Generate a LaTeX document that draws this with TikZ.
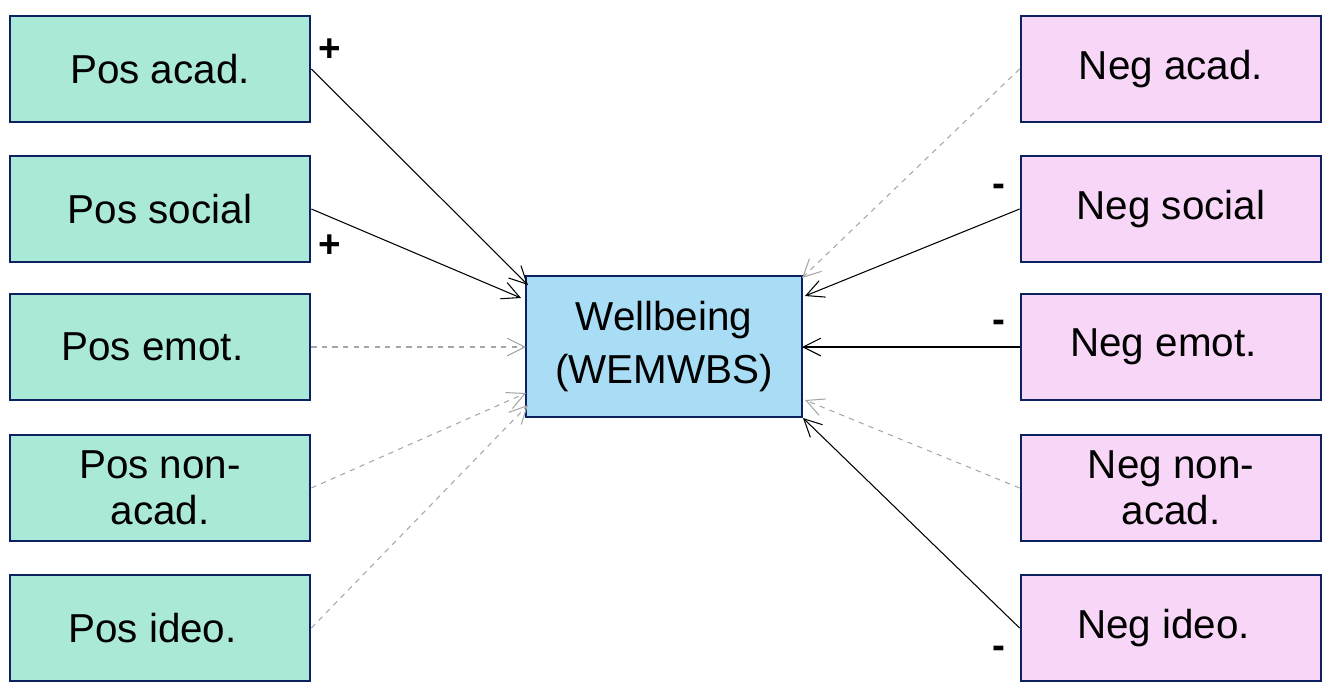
\documentclass[tikz,border=0pt]{standalone}
\usepackage{fontspec}
\setmainfont{Liberation Sans}
\usetikzlibrary{arrows.meta}
\definecolor{bord}{HTML}{0C2160}
\definecolor{gr}{HTML}{AAE9D8}
\definecolor{pk}{HTML}{F8D6F8}
\definecolor{bl}{HTML}{A8DDF5}
\begin{document}
\begin{tikzpicture}[x=0.02cm,y=-0.02cm,
 box/.style={draw=bord,line width=1.6pt,minimum width=6cm,minimum height=2.12cm,inner sep=0pt,align=center,font=\fontsize{23}{26}\selectfont},
 posbox/.style={box,fill=gr},
 negbox/.style={box,fill=pk},
 sig/.style={-{Straight Barb[length=10pt,width=10pt]},line width=0.6pt,black},
 ns/.style={-{Straight Barb[length=10pt,width=10pt]},line width=0.6pt,gray!70,dashed},
 lab/.style={font=\fontsize{22}{24}\selectfont\bfseries}]
\useasboundingbox (0,0) rectangle (1330,690);
\node[posbox] (pa) at (160,69) {Pos acad.};
\node[posbox] (ps) at (160,209) {Pos social};
\node[posbox] (pe) at (160,347) {Pos emot.\hspace*{0.3cm}};
\node[posbox] (pn) at (160,488) {Pos non-\\acad.};
\node[posbox] (pi) at (160,628) {Pos ideo.\hspace*{0.3cm}};
\node[negbox] (na) at (1171,69) {Neg acad.};
\node[negbox] (ns1) at (1171,209) {Neg social};
\node[negbox] (ne) at (1171,347) {Neg emot.\hspace*{0.3cm}};
\node[negbox] (nn) at (1171,488) {Neg non-\\acad.};
\node[negbox] (ni) at (1171,628) {Neg ideo.\hspace*{0.3cm}};
\node[draw=bord,line width=1.6pt,fill=bl,minimum width=5.52cm,minimum height=2.82cm,align=center,font=\fontsize{23}{30}\selectfont] (w) at (664,346.5) {Wellbeing\\(WEMWBS)};
\coordinate (t1) at (528,285); \coordinate (t2) at (521,298);
\coordinate (t3) at (526,347); \coordinate (t4) at (526,393);
\coordinate (t5) at (528,405);
\coordinate (u1) at (802,278); \coordinate (u2) at (805,296);
\coordinate (u3) at (802,347); \coordinate (u4) at (805,400);
\coordinate (u5) at (803,418);
\draw[sig] (pa.east) -- (t1);
\draw[sig] (ps.east) -- (t2);
\draw[ns] (pe.east) -- (t3);
\draw[ns] (pn.east) -- (t4);
\draw[ns] (pi.east) -- (t5);
\draw[ns] (na.west) -- (u1);
\draw[sig] (ns1.west) -- (u2);
\draw[sig] (ne.west) -- (u3);
\draw[ns] (nn.west) -- (u4);
\draw[sig] (ni.west) -- (u5);
\node[lab] (l1) at (330,50) {+};
\node[lab] (l2) at (330,246) {+};
\node[lab] (l3) at (999,190) {-};
\node[lab] (l4) at (999,326) {-};
\node[lab] (l5) at (999,652) {-};
\end{tikzpicture}
\end{document}
